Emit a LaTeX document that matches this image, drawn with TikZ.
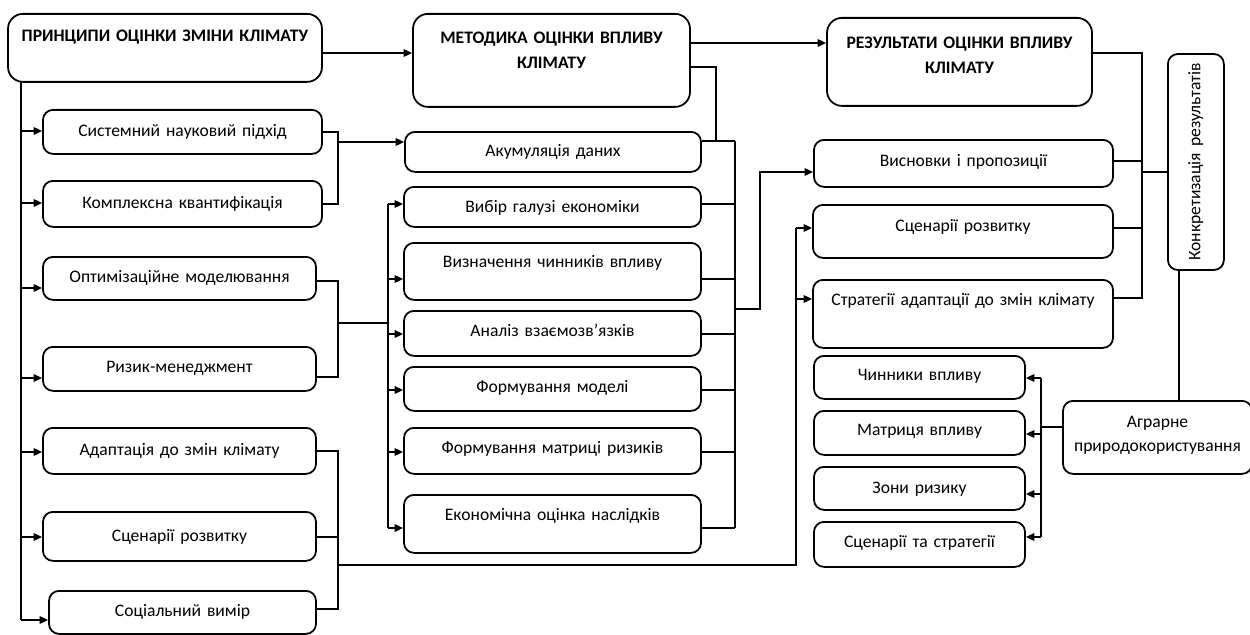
\documentclass[tikz,border=0pt]{standalone}
\usepackage{fontspec}
\setmainfont{Carlito}
\usetikzlibrary{arrows.meta}
\newlength{\pxu}\setlength{\pxu}{0.02cm}
\tikzset{
  box/.style={draw, rounded corners=0.2cm, line width=1pt, inner sep=0pt, align=center, anchor=north, font=\fontsize{10}{13.5}\selectfont},
  big/.style={box, rounded corners=0.3cm, font=\fontsize{10}{14}\selectfont\bfseries},
  bx/.style n args={3}{text width=#1\pxu, text height=#2\pxu, text depth=#3\pxu},
  line/.style={line width=1pt},
  arr/.style={line, -{Triangle[length=0.17cm,width=0.15cm]}},
}

\begin{document}
\begin{tikzpicture}[x=0.02cm, y=-0.02cm]
		\useasboundingbox (0,0) rectangle (1250,635);
		%%%%% BOXES %%%%%
		\node[big, bx={314}{28}{40}] (P) at (165,13) {ПРИНЦИПИ ОЦІНКИ ЗМІНИ КЛІМАТУ};
		\node[big, bx={277}{29.7}{63.3}] (M) at (551.5,13) {МЕТОДИКА ОЦІНКИ ВПЛИВУ\\КЛІМАТУ};
		\node[big, bx={265}{30.7}{57.3}] (R) at (959.5,17) {РЕЗУЛЬТАТИ ОЦІНКИ ВПЛИВУ\\КЛІМАТУ};
		
		\node[box, bx={279}{26.5}{17.5}] (s1) at (182.5,109) {Системний науковий підхід};
		\node[box, bx={279}{27.5}{18.5}] (s2) at (182.5,180) {Комплексна квантифікація};
		\node[box, bx={273}{25.5}{17.5}] (s3) at (179.5,256) {Оптимізаційне моделювання};
		\node[box, bx={273}{25.5}{18.5}] (s4) at (179.5,346) {Ризик-менеджмент};
		\node[box, bx={273}{27.5}{18.5}] (s5) at (179.5,427) {Адаптація до змін клімату};
		\node[box, bx={273}{29.5}{19.5}] (s6) at (179.5,511) {Сценарії розвитку};
		\node[box, bx={267}{25.5}{17.5}] (s7) at (182.5,590) {Соціальний вимір};
		
		\node[box, bx={296}{24.5}{15.5}] (m1) at (553,131) {Акумуляція даних};
		\node[box, bx={297}{25.5}{14.5}] (m2) at (552.5,186) {Вибір галузі економіки};
		\node[box, bx={297}{24.5}{32.5}] (m3) at (552.5,242) {Визначення чинників впливу};
		\node[box, bx={297}{25.5}{19.5}] (m4) at (552.5,310) {Аналіз взаємозв’язків};
		\node[box, bx={297}{25.5}{18.5}] (m5) at (552.5,366) {Формування моделі};
		\node[box, bx={297}{25.5}{20.5}] (m6) at (552.5,427) {Формування матриці ризиків};
		\node[box, bx={297}{25.5}{32.5}] (m7) at (552.5,494) {Економічна оцінка наслідків};
		
		\node[box, bx={299}{26.5}{20.5}] (r1) at (963.5,139) {Висновки і пропозиції};
		\node[box, bx={300}{26.5}{26.5}] (r2) at (963,204) {Сценарії розвитку};
		\node[box, bx={300}{25.5}{42.5}] (r3) at (963,279) {Стратегії адаптації до змін клімату};
		\node[box, bx={216}{32.5}{23.5}, rotate=90] (K) at (1167,162) {Конкретизація результатів};
		\node[box, bx={189}{26.5}{46.5}] (A) at (1157.5,400) {Аграрне\\природокористування};
		
		\node[box, bx={211}{24.5}{18.5}] (b1) at (919.5,355) {Чинники впливу};
		\node[box, bx={211}{24.5}{19.5}] (b2) at (919.5,410) {Матриця впливу};
		\node[box, bx={211}{26.5}{16.5}] (b3) at (919.5,466) {Зони ризику};
		\node[box, bx={211}{25.5}{19.5}] (b4) at (919.5,521) {Сценарії та стратегії};
		
		%%%%% LINKS %%%%%
		\draw[arr] (P.east |- 0,53) -- (M.west |- 0,53);
		\draw[arr] (M.east |- 0,43) -- (R.west |- 0,43);
		
		% left trunk
		\coordinate (lt) at (21,81);
		\draw[line] (lt) -- (lt |- 0,620);
		\foreach \n/\y in {s1/131,s2/203,s3/288,s4/378,s5/452,s6/537,s7/620}
			\draw[arr] (lt |- 0,\y) -- (\n.west |- 0,\y);
		
		% brackets
		\coordinate (ba) at (338,142);
		\coordinate (bb) at (338,323);
		\coordinate (bc) at (338,565);
		\draw[line] (s1.east) -| (ba) |- (s2.east);
		\draw[arr] (ba) -- (m1.west |- ba);
		\draw[line] (s3.east |- 0,281) -| (bb) |- (s4.east |- 0,377);
		\draw[line] (s5.east) -| (bc) |- (s7.east |- 0,609);
		\draw[line] (s6.east |- 0,537) -- (bc |- 0,537);
		
		% middle in
		\coordinate (ml) at (388,323);
		\draw[line] (bb) -- (ml);
		\draw[line] (ml |- 0,204) -- (ml |- 0,528);
		\foreach \n/\y in {m2/204,m3/279,m4/334,m5/390,m6/452,m7/528}
			\draw[arr] (ml |- 0,\y) -- (\n.west |- 0,\y);
		
		% middle out
		\coordinate (mr) at (735,309);
		\coordinate (mj) at (716,141);
		\draw[line] (mr |- 0,141) -- (mr |- 0,528);
		\foreach \n/\y in {m1/141,m2/204,m3/279,m4/334,m5/390,m6/452,m7/528}
			\draw[line] (\n.east |- 0,\y) -- (mr |- 0,\y);
		\draw[line] (M.east |- 0,67) -| (mj);
		\coordinate (rk) at (760,172);
		\draw[arr] (mr) -| (rk) -- (r1.west |- rk);
		
		% bottom feed
		\coordinate (rb) at (796,565);
		\draw[line] (bc) -- (rb) -- (rb |- 0,228);
		\draw[arr] (rb |- 0,228) -- (r2.west |- 0,228);
		\draw[arr] (rb |- 0,299) -- (r3.west |- 0,299);
		
		% right side
		\coordinate (rr) at (1142,172);
		\draw[line] (R.east |- 0,53) -| (rr |- 0,298) -- (r3.east |- 0,298);
		\draw[line] (r1.east |- 0,161) -- (rr |- 0,161);
		\draw[line] (r2.east |- 0,228) -- (rr |- 0,228);
		\draw[line] (rr) -- (K.north |- rr);
		\draw[line] (K.west -| 1179,0) -- (A.north -| 1179,0);
		
		\coordinate (ra) at (1041,427);
		\draw[line] (A.west |- ra) -- (ra);
		\draw[line] (ra |- 0,378) -- (ra |- 0,537);
		\foreach \n/\y in {b1/378,b2/434,b3/494,b4/537}
			\draw[arr] (ra |- 0,\y) -- (\n.east |- 0,\y);
	\end{tikzpicture}
\end{document}
